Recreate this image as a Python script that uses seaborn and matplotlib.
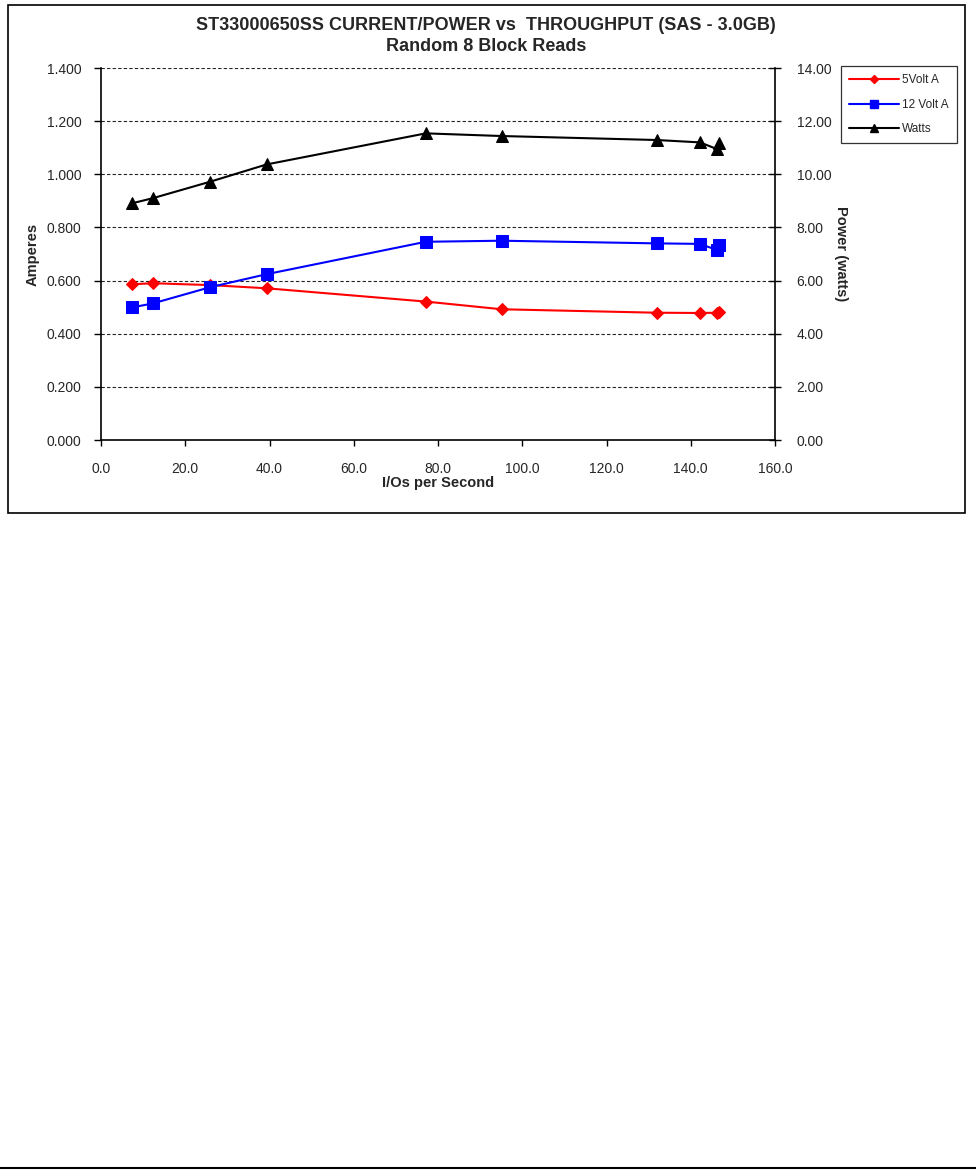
import matplotlib
matplotlib.use('Agg')
import matplotlib.pyplot as plt
import pandas as pd
import seaborn as sns
from matplotlib.lines import Line2D
from matplotlib.patches import Rectangle

# 数据
iops = [7.4, 12.3, 25.9, 39.3, 77.1, 95.1, 131.9, 142.2, 146.2, 146.8]
amps_5v = [0.586, 0.590, 0.583, 0.571, 0.521, 0.492, 0.479, 0.478, 0.479, 0.480]
amps_12v = [0.499, 0.514, 0.575, 0.624, 0.746, 0.750, 0.740, 0.738, 0.715, 0.734]
watts = [8.91, 9.10, 9.72, 10.37, 11.54, 11.44, 11.29, 11.20, 10.95, 11.18]

series_names = ['5Volt A', '12 Volt A', 'Watts']
title_text = 'ST33000650SS CURRENT/POWER vs  THROUGHPUT (SAS - 3.0GB)\nRandom 8 Block Reads'

df = pd.DataFrame({'iops': iops, '5Volt A': amps_5v, '12 Volt A': amps_12v, 'Watts': watts})

sns.set_theme(style="white")
plt.rcParams['font.family'] = ['Liberation Sans', 'DejaVu Sans']

W, H = 976, 1176
fig = plt.figure(figsize=(W / 100, H / 100), dpi=100)
ax = fig.add_axes([101 / W, 1 - 440 / H, (775 - 101) / W, (440 - 68) / H])
ax2 = ax.twinx()

# 电流
sns.lineplot(data=df, x='iops', y='5Volt A', ax=ax, color='#ff0000', marker='D', markersize=6.5,
             markeredgecolor='#ff0000', linewidth=1.5, sort=False, estimator=None, legend=False)
sns.lineplot(data=df, x='iops', y='12 Volt A', ax=ax, color='#0000ff', marker='s', markersize=8.5,
             markeredgecolor='#0000ff', linewidth=1.5, sort=False, estimator=None, legend=False)
# 功率
sns.lineplot(data=df, x='iops', y='Watts', ax=ax2, color='black', marker='^', markersize=9,
             markeredgecolor='black', linewidth=1.5, sort=False, estimator=None, legend=False)

ax.set_xlim(0, 160)
ax.set_ylim(0, 1.4)
ax2.set_ylim(0, 14)
ax.set_xticks([0, 20, 40, 60, 80, 100, 120, 140, 160])
ax.set_yticks([0, 0.2, 0.4, 0.6, 0.8, 1.0, 1.2, 1.4])
ax2.set_yticks([0, 2, 4, 6, 8, 10, 12, 14])
ax.xaxis.set_major_formatter(matplotlib.ticker.FormatStrFormatter('%.1f'))
ax.yaxis.set_major_formatter(matplotlib.ticker.FormatStrFormatter('%.3f'))
ax2.yaxis.set_major_formatter(matplotlib.ticker.FormatStrFormatter('%.2f'))

# 网格线
for v in [0.2, 0.4, 0.6, 0.8, 1.0, 1.2, 1.4]:
    ax.axhline(v, color='#222222', linewidth=0.8, linestyle=(0, (3, 2)), zorder=0)

for a in (ax, ax2):
    for s in a.spines.values():
        s.set_visible(False)
ax.spines['left'].set_visible(True)
ax.spines['bottom'].set_visible(True)
ax2.spines['right'].set_visible(True)
for s in (ax.spines['left'], ax.spines['bottom'], ax2.spines['right']):
    s.set_color('black')
    s.set_linewidth(1.2)

ax.tick_params(axis='x', direction='out', length=4, width=1, color='black', pad=12, labelsize=10, bottom=True)
ax.tick_params(axis='y', direction='out', length=5, width=1, color='black', pad=9, labelsize=10, left=True)
ax2.tick_params(axis='y', direction='inout', length=9, width=1, color='black', pad=11, labelsize=10, right=True)

ax.set_xlabel('I/Os per Second', fontsize=10.5, fontweight='bold', labelpad=0)
ax.set_ylabel('Amperes', fontsize=10.5, fontweight='bold', labelpad=5)
ax2.set_ylabel('Power (watts)', fontsize=10.5, fontweight='bold', rotation=-90, labelpad=12)

fig.text(486 / W, 1 - 36 / H, title_text, ha='center', va='center', fontsize=13,
         fontweight='bold', linespacing=1.3)

# 图例
handles = [
    Line2D([], [], color='#ff0000', marker='D', markersize=4, linewidth=1.5),
    Line2D([], [], color='#0000ff', marker='s', markersize=5.5, linewidth=1.5),
    Line2D([], [], color='black', marker='^', markersize=5.5, linewidth=1.5),
]
leg = fig.legend(handles, series_names, loc='upper left', bbox_to_anchor=(841 / W, 1 - 66 / H),
                 frameon=True, fancybox=False, edgecolor='black', fontsize=8.5, handlelength=4.2,
                 borderaxespad=0, borderpad=0.7, labelspacing=1.05, handletextpad=0.3)
leg.get_frame().set_linewidth(0.9)

# 外框
fig.add_artist(Rectangle((8 / W, 1 - 513 / H), (965 - 8) / W, (513 - 5) / H, transform=fig.transFigure,
                         fill=False, edgecolor='black', linewidth=1.2))
# 页脚线
fig.add_artist(Line2D([0, 1], [1 - 1168 / H, 1 - 1168 / H], transform=fig.transFigure,
                      color='black', linewidth=1.5))

fig.savefig('out.png', dpi=100)
